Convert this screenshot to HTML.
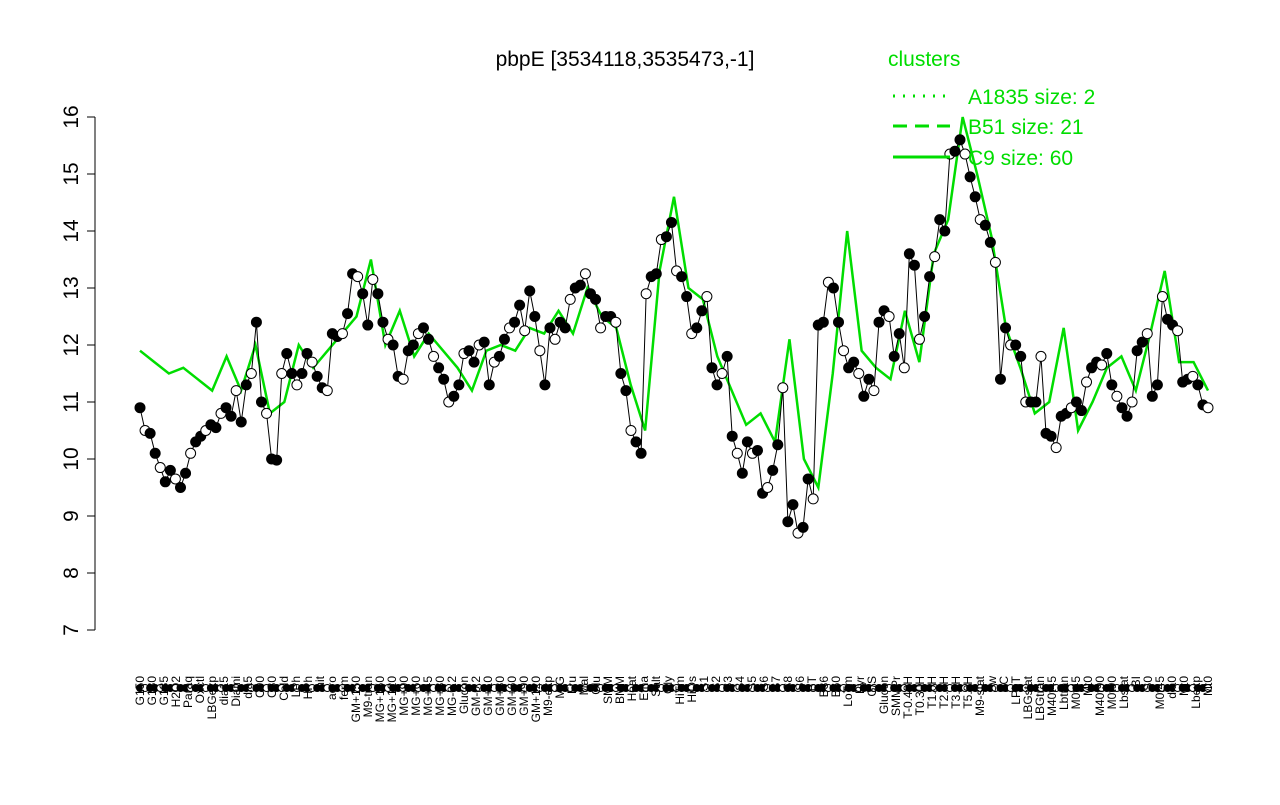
<!DOCTYPE html>
<html><head><meta charset="utf-8"><style>
body{margin:0;background:#fff;font-family:"Liberation Sans",sans-serif}
svg text{font-family:"Liberation Sans",sans-serif}
</style></head><body>
<svg width="1280" height="800" xmlns="http://www.w3.org/2000/svg">
<text x="625" y="66" font-size="21" text-anchor="middle">pbpE [3534118,3535473,-1]</text>
<g id="yaxis"></g>
<g id="green"></g>
<g id="series"></g>
<g id="xaxis"></g>
<g>
<text x="888" y="66" font-size="21" fill="#00dd00">clusters</text>
<line x1="893" y1="96" x2="950" y2="96" stroke="#00dd00" stroke-width="3" stroke-dasharray="2,8"/>
<text x="968" y="104" font-size="21" fill="#00dd00">A1835 size: 2</text>
<line x1="893" y1="126" x2="950" y2="126" stroke="#00dd00" stroke-width="3" stroke-dasharray="14,8"/>
<text x="968" y="134" font-size="21" fill="#00dd00">B51 size: 21</text>
<line x1="893" y1="157" x2="950" y2="157" stroke="#00dd00" stroke-width="3"/>
<text x="968" y="165" font-size="21" fill="#00dd00">C9 size: 60</text>
</g>
</svg>
<script>
const values=[10.9,10.5,10.45,10.1,9.85,9.6,9.8,9.65,9.5,9.75,10.1,10.3,10.4,10.5,10.6,10.55,10.8,10.9,10.75,11.2,10.65,11.3,11.5,12.4,11.0,10.8,10.0,9.98,11.5,11.85,11.5,11.3,11.5,11.85,11.7,11.45,11.25,11.2,12.2,12.15,12.2,12.55,13.25,13.2,12.9,12.35,13.15,12.9,12.4,12.1,12.0,11.45,11.4,11.9,12.0,12.2,12.3,12.1,11.8,11.6,11.4,11.0,11.1,11.3,11.85,11.9,11.7,12.0,12.05,11.3,11.7,11.8,12.1,12.3,12.4,12.7,12.25,12.95,12.5,11.9,11.3,12.3,12.1,12.4,12.3,12.8,13.0,13.05,13.25,12.9,12.8,12.3,12.5,12.5,12.4,11.5,11.2,10.5,10.3,10.1,12.9,13.2,13.25,13.85,13.9,14.15,13.3,13.2,12.85,12.2,12.3,12.6,12.85,11.6,11.3,11.5,11.8,10.4,10.1,9.75,10.3,10.1,10.15,9.4,9.5,9.8,10.25,11.25,8.9,9.2,8.7,8.8,9.65,9.3,12.35,12.4,13.1,13.0,12.4,11.9,11.6,11.7,11.5,11.1,11.4,11.2,12.4,12.6,12.5,11.8,12.2,11.6,13.6,13.4,12.1,12.5,13.2,13.55,14.2,14.0,15.35,15.4,15.6,15.35,14.95,14.6,14.2,14.1,13.8,13.45,11.4,12.3,12.0,12.0,11.8,11.0,11.0,11.0,11.8,10.45,10.4,10.2,10.75,10.8,10.9,11.0,10.85,11.35,11.6,11.7,11.65,11.85,11.3,11.1,10.9,10.75,11.0,11.9,12.05,12.2,11.1,11.3,12.85,12.45,12.35,12.25,11.35,11.4,11.45,11.3,10.95,10.9];
const cluster=[11.9,11.7,11.5,11.6,11.4,11.2,11.8,11.2,12.0,10.8,11.0,12.0,11.6,11.9,12.2,12.5,13.5,12.0,12.6,11.8,12.2,11.9,11.6,11.2,11.9,12.0,11.9,12.3,12.2,12.6,12.2,13.0,12.5,12.3,11.3,10.5,13.3,14.6,13.0,12.8,11.8,11.2,10.6,10.8,10.3,12.1,10.0,9.5,11.5,14.0,11.9,11.6,11.4,12.6,11.7,13.6,14.2,16.0,15.0,13.9,12.3,11.6,10.8,11.0,12.3,10.5,11.0,11.6,11.8,11.2,12.2,13.3,11.7,11.7,11.2];
const yTicks=[7,8,9,10,11,12,13,14,15,16];
const xLabels=["G150","G180","G135","H2O2","Paraq","Oxctl","LBGexp","dia15","Diami","dia5","C90","C30","Cold","LPh","HPh","nit","aero","ferm","GM+150","M9-tran","MG+150","MG+120","MG+90","MG+60","MG+45","MG+30","MG-0.2","Glucon","GM-0.2","GM+10","GM+30","GM+60","GM+90","GM+120","M9-exp","M/G","Fru","Mal","Glu","SMM","BMM","Heat","Etha","Salt","Gly","HiTm","HiOs","S1","S2","S3","S4","S5","S6","S7","S8","S6","BT","B36","B60","LoTm","Pyr","G/S","Glucon","SMMPr","T-0.40H","T0.30H","T1.0H","T2.0H","T3.0H","T5.0H","M9-stat","Sw","BC","LPhT","LBGstat","LBGtran","M40t45","Lbtran","M0t45","Mt0","M40t90","M0t90","Lbstat","BI","S0","M0t45","dia0","Mt0","Lbexp","Mt0"];
const NS="http://www.w3.org/2000/svg";
const X0=140,X1=1208;
function yS(v){return 630-(v-7)*57;}
function xS(i,n){return X0+i*(X1-X0)/(n-1);}
const ya=document.getElementById('yaxis');
const ax=document.createElementNS(NS,'line');
ax.setAttribute('x1',95);ax.setAttribute('x2',95);ax.setAttribute('y1',yS(7));ax.setAttribute('y2',yS(16));ax.setAttribute('stroke','#000');


ya.appendChild(ax);
yTicks.forEach(t=>{
 const l=document.createElementNS(NS,'line');
 l.setAttribute('x1',87);l.setAttribute('x2',95);l.setAttribute('y1',yS(t));l.setAttribute('y2',yS(t));l.setAttribute('stroke','#000');
 
 
 ya.appendChild(l);
 const tx=document.createElementNS(NS,'text');
 tx.setAttribute('x',0);tx.setAttribute('y',0);tx.setAttribute('font-size','21');tx.setAttribute('text-anchor','middle');
 tx.setAttribute('transform','translate(78,'+yS(t)+') rotate(-90)');
 tx.textContent=t;
 
 
 ya.appendChild(tx);
});
const g=document.getElementById('green');
const gp=document.createElementNS(NS,'polyline');
gp.setAttribute('points',cluster.map((v,i)=>xS(i,cluster.length)+','+yS(v)).join(' '));
gp.setAttribute('fill','none');gp.setAttribute('stroke','#00dd00');gp.setAttribute('stroke-width','2.5');


g.appendChild(gp);
const s=document.getElementById('series');
const n=values.length;
const pl=document.createElementNS(NS,'polyline');
pl.setAttribute('points',values.map((v,i)=>xS(i,n)+','+yS(v)).join(' '));
pl.setAttribute('fill','none');pl.setAttribute('stroke','#000');pl.setAttribute('stroke-width','1');


s.appendChild(pl);
values.forEach((v,i)=>{
 const c=document.createElementNS(NS,'circle');
 c.setAttribute('cx',xS(i,n));c.setAttribute('cy',yS(v));c.setAttribute('r',5);
 c.setAttribute('fill',i%3==1?'#fff':'#000');c.setAttribute('stroke','#000');
 
 
 s.appendChild(c);
 const m=document.createElementNS(NS,'circle');
 m.setAttribute('cx',xS(i,n));m.setAttribute('cy',688);m.setAttribute('r',3.5);
 m.setAttribute('fill',i%3==1?'#fff':'#000');m.setAttribute('stroke','#000');
 
 
 s.appendChild(m);
});
const xa=document.getElementById('xaxis');
xLabels.forEach((lb,i)=>{
 const x=xS(i,xLabels.length);
 const t=document.createElementNS(NS,'text');
 t.setAttribute('font-size','12');t.setAttribute('text-anchor','end');
 t.setAttribute('x',0);t.setAttribute('y',0);
 t.setAttribute('transform','translate('+(x+4)+',676) rotate(-90)');
 t.textContent=lb;
 
 
 xa.appendChild(t);
});
</script>
</body></html>
